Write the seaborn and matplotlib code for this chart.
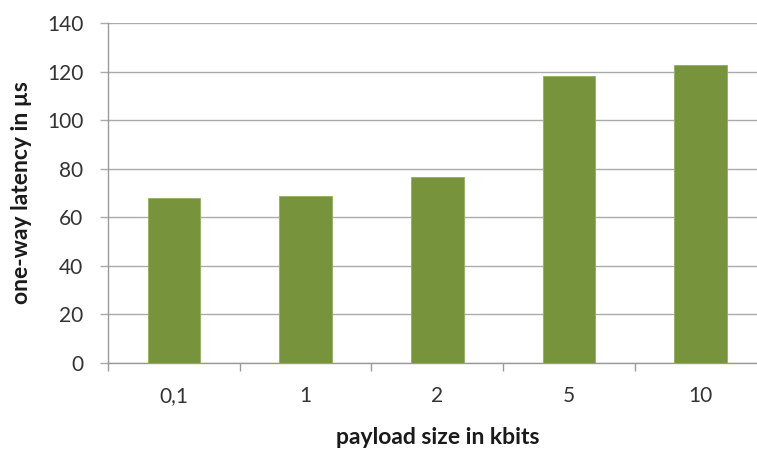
import matplotlib
matplotlib.use("Agg")
import matplotlib.pyplot as plt
import seaborn as sns
import pandas as pd

# Payload sizes (kbit) and measured one-way latency (µs)
payload_labels = ["0,1", "1", "2", "5", "10"]
latency_us = [67.9, 68.9, 76.4, 118.1, 122.8]
y_ticks = [0, 20, 40, 60, 80, 100, 120, 140]

bar_color = "#77933C"
grid_color = "#ABABAB"
axis_color = "#9A9A9A"
text_color = "#333333"

sns.set_theme(style="white")
plt.rcParams["font.family"] = ["Lato", "DejaVu Sans"]

df = pd.DataFrame({"payload": payload_labels, "latency": latency_us})

fig = plt.figure(figsize=(7.57, 4.5), dpi=100)
ax = fig.add_axes([108 / 757, (450 - 362.7) / 450, 658.5 / 757, 339.7 / 450])

sns.barplot(data=df, x="payload", y="latency", order=payload_labels,
            color=bar_color, saturation=1, width=0.4,
            edgecolor="#93AE62", linewidth=0.6, ax=ax, zorder=3)

ax.set_ylim(0, 140)
ax.set_xlim(-0.5, len(payload_labels) - 0.5)
ax.set_yticks(y_ticks)
ax.set_yticklabels([str(v) for v in y_ticks])

# horizontal gridlines
ax.yaxis.grid(True, color=grid_color, linewidth=1.0, zorder=0)
ax.xaxis.grid(False)
ax.set_axisbelow(True)

for side in ("top", "right"):
    ax.spines[side].set_visible(False)
for side in ("left", "bottom"):
    ax.spines[side].set_color(axis_color)
    ax.spines[side].set_linewidth(1.0)

# category separators as minor ticks, labels centred on major ticks
ax.set_xticks([i - 0.5 for i in range(len(payload_labels) + 1)], minor=True)
ax.tick_params(axis="x", which="minor", length=5.5, width=1.0, color=axis_color,
               direction="out", bottom=True)
ax.tick_params(axis="x", which="major", length=0, pad=17, labelsize=15,
               labelcolor=text_color)
ax.tick_params(axis="y", which="major", length=5.8, width=1.0, color=grid_color,
               direction="out", left=True, pad=12, labelsize=15,
               labelcolor=text_color)

ax.set_xlabel("payload size in kbits", fontsize=16.5, fontweight="bold",
              color="#1a1a1a", va="center")
ax.xaxis.set_label_coords(0.5, (362.7 - 437) / 339.7)
ax.set_ylabel("one-way latency in µs", fontsize=16.5, fontweight="bold",
              color="#1a1a1a", va="center")
ax.yaxis.set_label_coords((22 - 108) / 658.5, 0.5)

fig.savefig("out.png", dpi=100)
